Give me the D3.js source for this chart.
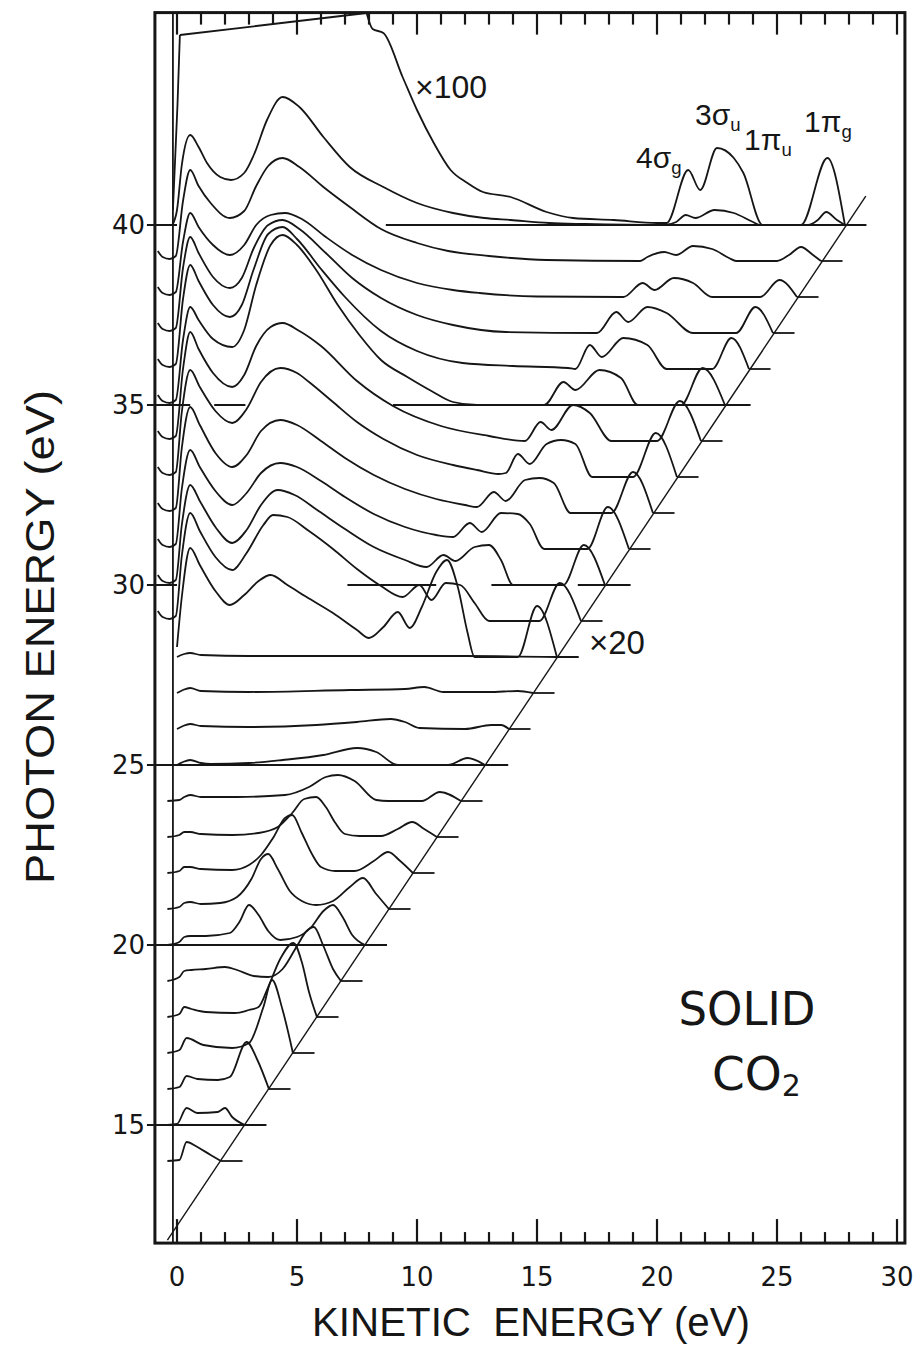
<!DOCTYPE html>
<html>
<head>
<meta charset="utf-8">
<script src="https://cdn.jsdelivr.net/npm/d3@7"></script>
<style>
  html, body { margin: 0; padding: 0; background: #ffffff; }
  svg { display: block; }
  .num { font-family: "DejaVu Sans", sans-serif; font-size: 26px; fill: #161616; }
  .title { font-family: "Liberation Sans Narrow", "Liberation Sans", sans-serif; font-size: 40px; fill: #161616; }
  .note { font-family: "Liberation Sans Narrow", "Liberation Sans", sans-serif; fill: #161616; }
</style>
</head>
<body>
<svg id="chart" width="917" height="1345"></svg>
<script>
// Photoelectron energy-distribution curves of solid CO2.
// Each curve: [kinetic energy (eV), intensity (a.u.)], stacked at its photon energy.

const xTicks = [0, 5, 10, 15, 20, 25, 30];
const yTicks = [15, 20, 25, 30, 35, 40];
const photonEnergies = [14, 15, 16, 17, 18, 19, 20, 21, 22, 23, 24, 25, 26, 27,
                        28, 29, 30, 31, 32, 33, 34, 35, 36, 37, 38, 39, 40];

const s14 = [[-0.4,0],[0.1,1],[0.4,19],[0.85,14],[1.4,6],[1.83,0]];
const s15 = [[-0.4,0],[0.0,1],[0.4,17],[0.85,12],[1.7,13],[2.0,17],[2.3,8],[2.83,0]];
const s16 = [[-0.4,0],[0.1,2],[0.4,13],[0.85,10],[1.7,9],[2.2,12],[2.9,47],[3.35,29],[3.83,0]];
const s17 = [[-0.4,0],[0.1,3],[0.4,15],[1.1,8],[2.3,5],[3.0,10],[3.6,46],[3.96,73],[4.4,43],[4.83,0]];
const s18 = [[-0.4,0],[0.1,3],[0.3,10],[0.6,8],[1.2,5],[2.4,4],[3.0,7],[3.4,10],[3.8,30],[4.3,58],[4.85,74],[5.2,55],[5.5,25],[5.83,0]];
const s19 = [[-0.4,0],[0.1,4],[0.3,10],[0.6,11],[1.2,12],[2.0,14],[2.5,11],[3.2,5],[3.8,4],[4.4,12],[5.0,35],[5.4,50],[5.7,54],[6.1,35],[6.5,12],[6.83,0]];
const s20 = [[-0.4,0],[0.1,3],[0.3,8],[0.55,9],[1.2,9],[2.2,12],[2.6,23],[3.0,40],[3.4,30],[3.8,14],[4.3,5],[5.0,8],[5.6,18],[6.1,34],[6.5,40],[6.9,28],[7.3,10],[7.83,0]];
const s21 = [[-0.4,0],[0.1,2],[0.3,6],[0.55,7],[1.0,5],[1.8,6],[2.5,12],[3.1,30],[3.5,50],[3.8,55],[4.2,40],[4.7,18],[5.2,8],[5.8,4],[6.5,8],[7.2,22],[7.75,31],[8.3,15],[8.83,0]];
const s22 = [[-0.4,0],[0.1,2],[0.3,6],[0.55,6],[1.0,4],[2.3,3],[3.0,8],[3.5,18],[4.0,35],[4.5,55],[4.8,58],[5.2,40],[5.6,20],[6.0,6],[6.6,2],[7.4,2],[8.2,12],[8.8,21],[9.3,12],[9.83,0]];
const s23 = [[-0.4,0],[0.1,2],[0.3,5],[0.55,5],[1.0,3],[2.3,2],[3.4,4],[4.2,10],[4.8,24],[5.3,38],[5.8,40],[6.2,30],[6.6,14],[7.0,3],[7.6,1],[8.5,1],[9.2,8],[9.8,15],[10.3,8],[10.83,0]];
const s24 = [[-0.4,0],[0.1,1],[0.3,4],[0.55,6],[1.0,4],[2.5,4],[4.5,6],[5.5,14],[6.2,24],[6.7,26],[7.4,20],[8.3,1],[8.8,0],[10.2,0],[10.95,9],[11.83,0]];
const s25 = [[0,0],[0.25,3],[0.55,5],[1.0,2],[1.4,1],[3,2],[4.4,5],[6.1,10],[7.5,17],[8.3,13],[9.2,0],[11.3,0],[12.1,7],[12.83,0]];
const s26 = [[0,0],[0.25,3],[0.55,5],[1.0,3],[3,2],[5.8,4],[7.5,7],[8.9,10],[9.5,7],[10.1,1],[12,0],[13.1,4],[13.5,4],[13.83,0]];
const s27 = [[0,0],[0.25,3],[0.55,5],[1.0,2],[3,1],[7.2,3],[9.5,4],[10.3,6],[11.1,1],[13,1],[14.2,2],[14.83,0]];
const s28 = [[0,0],[0.3,3],[0.55,4],[1.0,2],[3,1],[8,1],[12,1],[15.83,0]];
const s29 = [[-0.8,10],[-0.6,4],[-0.3,2],[-0.05,5],[0.2,65],[0.55,108],[0.95,90],[1.6,64],[2.3,51],[2.9,68],[3.6,96],[4.0,106],[4.6,104],[5.5,90],[6.5,72],[7.5,52],[8.5,35],[9.4,24],[10.1,36],[10.6,21],[11.2,38],[11.8,36],[12.4,18],[13.0,0],[15.1,0],[15.95,38],[16.83,0]];
const s30 = [[-0.8,10],[-0.6,4],[-0.3,2],[-0.05,5],[0.2,60],[0.55,100],[0.95,84],[1.6,58],[2.3,42],[2.9,55],[3.5,80],[4.2,95],[4.9,90],[5.9,74],[7.0,56],[8.2,38],[9.5,25],[10.4,18],[11.1,30],[11.6,24],[12.4,38],[13.0,40],[13.5,25],[14.0,0],[16.1,0],[16.95,40],[17.83,0]];
const s31 = [[-0.8,10],[-0.6,4],[-0.3,2],[-0.05,5],[0.2,60],[0.55,99],[0.95,82],[1.6,58],[2.3,44],[2.9,56],[3.5,76],[4.3,86],[5.0,82],[6.0,68],[7.0,52],[8.2,35],[9.5,22],[10.8,14],[11.5,12],[12.2,26],[12.7,17],[13.5,36],[14.2,35],[14.7,25],[15.3,0],[17.1,0],[17.95,42],[18.83,0]];
const s32 = [[-0.8,10],[-0.6,4],[-0.3,2],[-0.05,5],[0.2,65],[0.55,106],[0.95,88],[1.6,60],[2.3,46],[2.9,58],[3.5,82],[4.3,93],[5.0,88],[6.0,72],[7.0,55],[8.2,38],[9.5,24],[10.8,14],[12.0,8],[12.5,6],[13.2,21],[13.7,12],[14.5,33],[15.1,35],[15.7,30],[16.4,0],[18.1,0],[19.0,41],[19.83,0]];
const s33 = [[-0.8,10],[-0.6,4],[-0.3,2],[-0.05,5],[0.2,65],[0.55,107],[0.95,90],[1.6,66],[2.3,54],[2.9,68],[3.5,95],[4.3,109],[5.0,104],[5.5,95],[6.5,75],[7.5,55],[8.6,38],[10,22],[11.5,12],[12.5,7],[13.4,3],[13.7,4],[14.2,23],[14.7,13],[15.4,33],[16.0,37],[16.6,33],[17.3,0],[19.0,0],[19.95,44],[20.83,0]];
const s34 = [[-0.8,10],[-0.6,4],[-0.3,2],[-0.05,5],[0.25,72],[0.55,109],[0.9,92],[1.5,68],[2.3,54],[2.8,66],[3.3,95],[3.9,114],[4.4,118],[5.1,110],[6.0,95],[7.5,60],[9,35],[11,15],[13,5],[14.5,0],[15.15,19],[15.6,11],[16.5,36],[17.2,28],[18.1,0],[20,0],[20.95,40],[21.83,0]];
const s35 = [[-0.8,10],[-0.6,4],[-0.3,2],[-0.05,5],[0.25,65],[0.55,98],[0.9,85],[1.5,66],[2.3,58],[2.8,75],[3.3,120],[3.9,160],[4.4,170],[5.0,160],[5.8,135],[6.7,100],[7.6,70],[8.5,45],[9.6,28],[10.6,14],[11.5,3],[12.5,0],[15.3,0],[16.1,23],[16.6,15],[17.6,35],[18.5,27],[19.2,0],[21,0],[21.9,37],[22.83,0]];
const s36 = [[-0.8,10],[-0.6,4],[-0.3,2],[-0.05,5],[0.25,70],[0.55,104],[0.9,88],[1.5,64],[2.2,52],[2.7,64],[3.2,100],[3.8,135],[4.4,142],[5.0,130],[6.0,100],[7.0,72],[8.5,38],[10,18],[11.9,6],[14,3],[16.3,1],[16.6,0],[17.2,24],[17.7,12],[18.6,31],[19.6,24],[20.4,0],[22.3,0],[23.1,31],[23.83,0]];
const s37 = [[-0.8,10],[-0.6,4],[-0.3,2],[-0.05,5],[0.25,65],[0.55,96],[0.9,80],[1.5,56],[2.2,45],[2.7,55],[3.2,85],[3.8,108],[4.4,113],[5.1,104],[6.2,80],[7.3,55],[8.5,35],[10,18],[11.5,8],[13.7,1],[17.5,0],[18.3,21],[18.8,11],[19.6,26],[20.4,20],[21.5,0],[23.3,0],[24.1,26],[24.83,0]];
const s38 = [[-0.8,10],[-0.6,4],[-0.3,2],[-0.05,5],[0.25,55],[0.55,84],[0.9,70],[1.5,52],[2.2,42],[2.8,52],[3.3,72],[3.9,82],[4.5,84],[5.2,78],[6.2,60],[7.3,42],[8.5,27],[10,14],[11.5,7],[12.6,4],[15,0.5],[18.6,0],[19.4,14],[19.9,7],[20.7,19],[21.5,14],[22.3,0],[24.3,0],[25.1,17],[25.83,0]];
const s39 = [[-0.8,10],[-0.6,4],[-0.3,2],[-0.05,5],[0.25,60],[0.55,91],[0.9,75],[1.4,58],[2.2,43],[2.8,50],[3.3,75],[3.8,95],[4.4,103],[5.1,94],[6.1,74],[7.2,54],[8.5,32],[10,18],[11.3,10],[13,5],[15.4,1],[19.3,0],[19.6,4],[20.3,9],[20.8,6],[21.5,15],[22.3,12],[23,3],[23.3,0],[25,0],[25.5,6],[26,14],[26.5,6],[26.83,0]];
const s40 = [[-0.2,0],[0.0,15],[0.2,60],[0.55,90],[0.9,78],[1.25,62],[1.8,48],[2.25,45],[2.8,52],[3.2,70],[3.75,105],[4.4,128],[5.1,118],[6.1,88],[7.2,58],[8.6,38],[10,22],[11.5,12],[12.8,7],[13.9,5],[15.5,2],[17,1],[20.3,0],[20.8,3],[21.2,10],[21.6,7],[22.4,15],[23.2,12],[24.0,3],[24.3,0],[26.3,0],[26.7,5],[27.05,13],[27.5,5],[27.83,0]];

// magnified traces: hv = 40 eV (x100) and hv = 28 eV (x20)
const s40x100Rise = [[-0.17,15],[0.02,120],[0.12,190]];
const s40x100Clip = [[0.12,190],[7.9,212]];          // off-scale part, ruled straight
const s40x100 = [[7.9,212],[8.15,196],[8.6,192],[9.4,148],[10,115],[10.7,82],[11.4,55],[12.1,42],[12.75,33],[13.9,28],[15.4,13],[16.5,7],[18.2,5],[20,2],[20.4,2],[21.3,55],[21.8,35],[22.5,77],[23.2,67],[23.6,52],[24.4,0],[26,0],[27.1,67],[27.83,0]];
const s28x20 = [[0.0,10],[0.2,60],[0.55,109],[0.95,92],[1.6,66],[2.2,52],[2.8,62],[3.4,76],[3.9,82],[4.6,72],[5.4,60],[6.5,44],[7.5,27],[8.0,19],[8.6,30],[9.2,45],[9.7,29],[10.2,50],[10.8,85],[11.25,97],[11.7,70],[12.1,25],[12.4,0],[14.2,0],[15.0,51],[15.83,0]];

// horizontal reference lines at every 5 eV of photon energy: [hv, [KE from, KE to], ...]
const refLines = [
  [15, [[-0.92, 3.7]]],
  [20, [[-0.92, 8.75]]],
  [25, [[-0.92, 13.8]]],
  [30, [[-0.92, 0], [7.1, 10.8], [13.1, 15.7], [16.7, 18.9]]],
  [35, [[-0.92, 0.55], [1.55, 2.85], [9.0, 23.9]]],
  [40, [[-0.92, 0], [8.7, 28.7]]]
];

// photoemission threshold line (KE, hv) and the KE = 0 marker
const thresholdLine = [[-0.4, 11.8], [28.7, 40.8]];
const zeroLineKE = -0.17;

const curveTable = [s14, s15, s16, s17, s18, s19, s20, s21, s22, s23, s24, s25, s26, s27,
                    s28, s29, s30, s31, s32, s33, s34, s35, s36, s37, s38, s39, s40];
const spectra = photonEnergies.map((hv, i) => ({ hv, pts: curveTable[i] }));

// ---------------------------------------------------------------
const svg = d3.select("#chart");
const x = d3.scaleLinear().domain([0, 30]).range([177, 897]);
const y = d3.scaleLinear().domain([15, 40]).range([1125, 225]);
const amp = d3.scaleLinear().domain([0, 36]).range([0, 1]); // intensity -> eV offset

const frameKE = [-0.92, 30.33];
const frameHV = [11.72, 45.9];
const ink = "#161616";
const tailEv = 0.9;

const plot = svg.append("g");

// frame
plot.append("rect")
  .attr("x", x(frameKE[0])).attr("y", y(frameHV[1]))
  .attr("width", x(frameKE[1]) - x(frameKE[0]))
  .attr("height", y(frameHV[0]) - y(frameHV[1]))
  .attr("fill", "none").attr("stroke", ink).attr("stroke-width", 3);

// minor/major ticks on top and bottom edges
const minorKE = d3.range(0, 31, 1);
const yTop = y(frameHV[1]), yBot = y(frameHV[0]);
plot.append("g").selectAll("line").data(minorKE).join("line")
  .attr("x1", d => x(d)).attr("x2", d => x(d))
  .attr("y1", yBot).attr("y2", d => yBot - (d % 5 === 0 ? 24 : 11))
  .attr("stroke", ink).attr("stroke-width", 2.2);
plot.append("g").selectAll("line").data(minorKE).join("line")
  .attr("x1", d => x(d)).attr("x2", d => x(d))
  .attr("y1", yTop).attr("y2", d => yTop + (d % 5 === 0 ? 22 : 12))
  .attr("stroke", ink).attr("stroke-width", 2.2);

// left ticks
plot.append("g").selectAll("line").data(yTicks).join("line")
  .attr("x1", x(frameKE[0]) - 8).attr("x2", x(frameKE[0]))
  .attr("y1", d => y(d)).attr("y2", d => y(d))
  .attr("stroke", ink).attr("stroke-width", 2);

// tick labels
svg.append("g").selectAll("text").data(xTicks).join("text")
  .attr("class", "num").attr("x", d => x(d)).attr("y", 1286)
  .attr("text-anchor", "middle").text(d => d);
svg.append("g").selectAll("text").data(yTicks).join("text")
  .attr("class", "num").attr("x", 145).attr("y", d => y(d) + 9)
  .attr("text-anchor", "end").text(d => d);

// axis titles
svg.append("text").attr("class", "title")
  .attr("x", 312).attr("y", 1336)
  .attr("textLength", 438).attr("lengthAdjust", "spacingAndGlyphs")
  .text("KINETIC\u00a0\u00a0ENERGY (eV)");
svg.append("text").attr("class", "title")
  .attr("transform", "translate(54,884) rotate(-90)")
  .attr("textLength", 494).attr("lengthAdjust", "spacingAndGlyphs")
  .text("PHOTON ENERGY (eV)");

// reference lines
refLines.forEach(([hv, segs]) => {
  segs.forEach(([a, b]) => {
    plot.append("line")
      .attr("x1", x(a)).attr("x2", x(b))
      .attr("y1", y(hv)).attr("y2", y(hv))
      .attr("stroke", ink).attr("stroke-width", 2);
  });
});

// threshold diagonal and KE = 0 marker
plot.append("line")
  .attr("x1", x(thresholdLine[0][0])).attr("y1", y(thresholdLine[0][1]))
  .attr("x2", x(thresholdLine[1][0])).attr("y2", y(thresholdLine[1][1]))
  .attr("stroke", ink).attr("stroke-width", 1.4);
plot.append("line")
  .attr("x1", x(zeroLineKE)).attr("x2", x(zeroLineKE))
  .attr("y1", y(frameHV[0])).attr("y2", y(frameHV[1]))
  .attr("stroke", ink).attr("stroke-width", 1.8);

// spectra
const lineGen = (hv, curve) => d3.line()
  .x(d => x(d[0]))
  .y(d => y(hv + amp(d[1])))
  .curve(curve);

const drawPath = (hv, pts, curve) =>
  plot.append("path")
    .attr("d", lineGen(hv, curve)(pts))
    .attr("fill", "none").attr("stroke", ink)
    .attr("stroke-width", 1.8).attr("stroke-linejoin", "round");

const drawTail = (hv, pts) => {
  const end = pts[pts.length - 1][0];
  plot.append("line")
    .attr("x1", x(end)).attr("x2", x(end + tailEv))
    .attr("y1", y(hv)).attr("y2", y(hv))
    .attr("stroke", ink).attr("stroke-width", 1.8);
};

spectra.forEach(s => { drawPath(s.hv, s.pts, d3.curveMonotoneX); drawTail(s.hv, s.pts); });

drawPath(28, s28x20, d3.curveMonotoneX);
drawTail(28, s28x20);
drawPath(40, s40x100Rise, d3.curveMonotoneX);
drawPath(40, s40x100Clip, d3.curveLinear);
drawPath(40, s40x100, d3.curveMonotoneX);

// annotations
const note = (tx, ty, size, parts) => {
  const t = svg.append("text").attr("class", "note")
    .attr("x", tx).attr("y", ty).attr("font-size", size);
  parts.forEach(p => {
    const ts = t.append("tspan").text(p.t);
    if (p.sub) ts.attr("font-size", size * 0.62).attr("dy", 6);
  });
};
note(415, 98, 32, [{ t: "\u00d7100" }]);
note(589, 654, 33, [{ t: "\u00d720" }]);
note(636, 168, 30, [{ t: "4" }, { t: "\u03c3" }, { t: "g", sub: true }]);
note(695, 125, 30, [{ t: "3" }, { t: "\u03c3" }, { t: "u", sub: true }]);
note(744, 150, 30, [{ t: "1" }, { t: "\u03c0" }, { t: "u", sub: true }]);
note(804, 132, 30, [{ t: "1" }, { t: "\u03c0" }, { t: "g", sub: true }]);

const solid = svg.append("g").attr("font-family", "DejaVu Sans, sans-serif").attr("fill", ink);
solid.append("text").attr("x", 747).attr("y", 1025).attr("text-anchor", "middle")
  .attr("font-size", 47).attr("textLength", 137).attr("lengthAdjust", "spacingAndGlyphs")
  .text("SOLID");
const co2 = solid.append("text").attr("x", 712).attr("y", 1090).attr("font-size", 47);
co2.append("tspan").text("CO");
co2.append("tspan").attr("font-size", 30).attr("dy", 6).text("2");
</script>
</body>
</html>
